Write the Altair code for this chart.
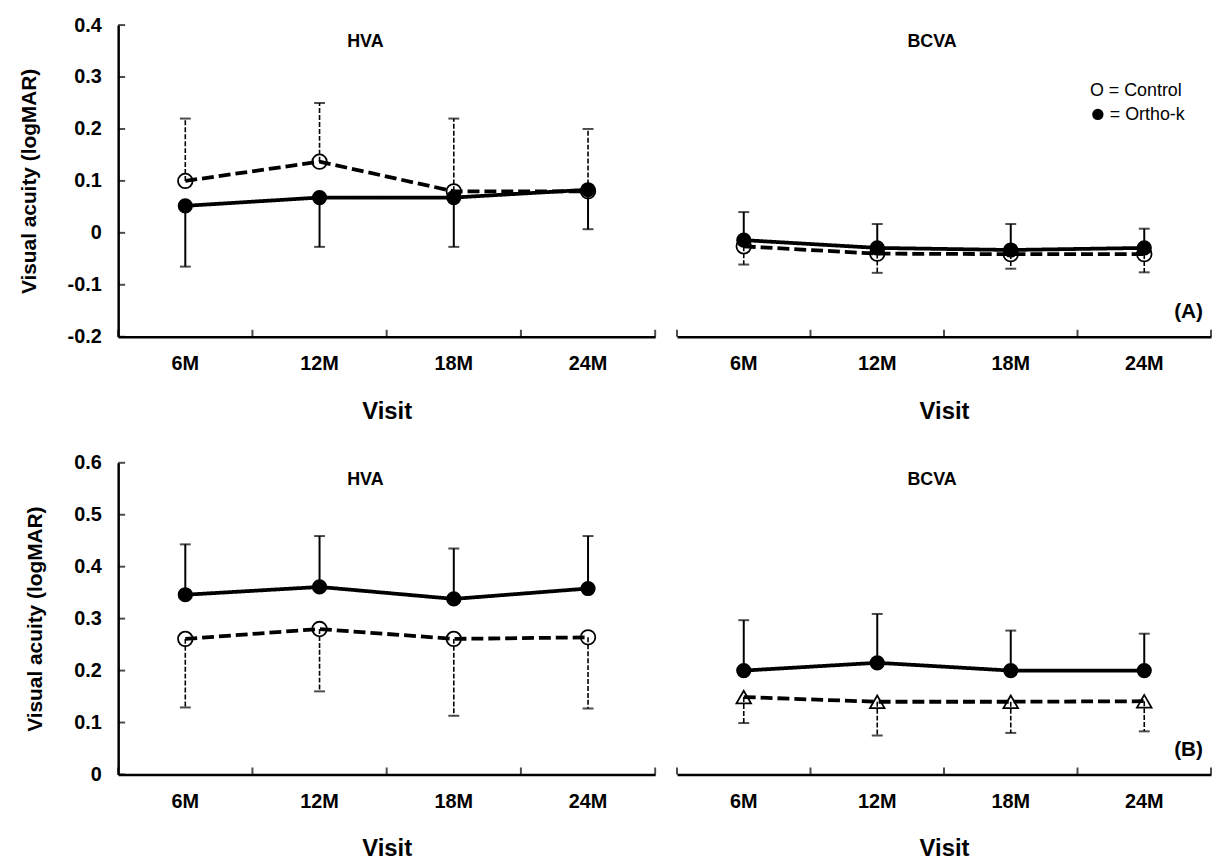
import altair as alt
import pandas as pd

visits = ["6M", "12M", "18M", "24M"]

# (A) HVA
A_HVA_control = [0.100, 0.137, 0.080, 0.080]
A_HVA_control_err = [0.220, 0.250, 0.220, 0.200]
A_HVA_orthok = [0.052, 0.068, 0.068, 0.083]
A_HVA_orthok_err = [-0.065, -0.027, -0.027, 0.007]
# (A) BCVA
A_BCVA_control = [-0.026, -0.040, -0.041, -0.041]
A_BCVA_control_err = [-0.061, -0.077, -0.069, -0.076]
A_BCVA_orthok = [-0.014, -0.029, -0.033, -0.029]
A_BCVA_orthok_err = [0.040, 0.017, 0.017, 0.008]
# (B) HVA
B_HVA_control = [0.261, 0.280, 0.261, 0.264]
B_HVA_control_err = [0.129, 0.160, 0.113, 0.127]
B_HVA_orthok = [0.346, 0.361, 0.338, 0.358]
B_HVA_orthok_err = [0.443, 0.459, 0.435, 0.459]
# (B) BCVA
B_BCVA_control = [0.149, 0.140, 0.140, 0.141]
B_BCVA_control_err = [0.099, 0.075, 0.080, 0.083]
B_BCVA_orthok = [0.200, 0.215, 0.200, 0.200]
B_BCVA_orthok_err = [0.297, 0.309, 0.277, 0.271]

A_ticks = [0.4, 0.3, 0.2, 0.1, 0.0, -0.1, -0.2]
B_ticks = [0.6, 0.5, 0.4, 0.3, 0.2, 0.1, 0.0]

legend_text = ["O = Control", "= Ortho-k"]

FONT = "Liberation Sans"
W_LEFT = 541
W_RIGHT = 538
H = 314


def df(vals, errs):
    return pd.DataFrame({"visit": visits, "value": vals, "err": errs})


def panel(ctrl, orth, dom, yticks, title, title_x, left, ctrl_shape,
          tag=None, legend=False, width=W_LEFT):
    xscale = alt.Scale(type="band", paddingInner=0, paddingOuter=0, domain=visits)
    yscale = alt.Scale(domain=dom, nice=False, zero=False)
    xaxis = alt.Axis(title="Visit", ticks=False, labelAngle=0, domainColor="black",
                     domainWidth=2.5, labelFont=FONT, labelFontSize=20,
                     labelFontWeight="bold", labelColor="black", labelPadding=17,
                     titleFont=FONT, titleFontSize=24, titleFontWeight="bold",
                     titleColor="black", titlePadding=26, grid=False)
    if left:
        yaxis = alt.Axis(title="Visual acuity (logMAR)", values=yticks, ticks=False,
                         grid=False, domainColor="black", domainWidth=2.5,
                         labelFont=FONT, labelFontSize=20, labelFontWeight="bold",
                         labelColor="black", labelPadding=17,
                         labelExpr="datum.value == 0 ? '0' : (datum.value < 0 ? '-' + format(-datum.value, '.1f') : format(datum.value, '.1f'))",
                         titleFont=FONT, titleFontSize=21, titleFontWeight="bold",
                         titleColor="black", titlePadding=28)
    else:
        yaxis = None

    X = alt.X("visit:N", sort=visits, scale=xscale, axis=xaxis)

    def Yv(field):
        return alt.Y(field, scale=yscale, axis=yaxis, title="Visual acuity (logMAR)")

    layers = []
    # inward x ticks at band edges
    layers.append(alt.Chart(pd.DataFrame({"visit": visits})).mark_tick(
        orient="vertical", color="black", thickness=2, size=7).encode(
        x=alt.X("visit:N", sort=visits, scale=xscale, axis=xaxis, bandPosition=0),
        y=alt.value(H - 3.5)))
    layers.append(alt.Chart(pd.DataFrame({"visit": visits[-1:]})).mark_tick(
        orient="vertical", color="black", thickness=2, size=7).encode(
        x=alt.X("visit:N", sort=visits, scale=xscale, axis=xaxis, bandPosition=1),
        y=alt.value(H - 3.5)))
    if left:
        layers.append(alt.Chart(pd.DataFrame({"value": yticks})).mark_tick(
            orient="horizontal", color="black", thickness=2, size=7).encode(
            y=Yv("value:Q"), x=alt.value(3.5)))

    def group(d, dashed, shape, filled):
        out = []
        out.append(alt.Chart(d).mark_rule(
            color="black", strokeWidth=1.6 if dashed else 2,
            strokeDash=[5, 2] if dashed else [1, 0]).encode(
            x=X, y=Yv("value:Q"), y2="err:Q"))
        out.append(alt.Chart(d).mark_tick(
            color="black", thickness=2, size=11, orient="horizontal").encode(
            x=X, y=Yv("err:Q")))
        out.append(alt.Chart(d).mark_line(
            color="black", strokeWidth=3.8,
            strokeDash=[12, 5] if dashed else [1, 0]).encode(
            x=X, y=Yv("value:Q")))
        if filled:
            out.append(alt.Chart(d).mark_point(
                shape=shape, filled=True, size=235, color="black", opacity=1).encode(
                x=X, y=Yv("value:Q")))
        else:
            out.append(alt.Chart(d).mark_point(
                shape=shape, filled=False, size=215, color="black", strokeWidth=1.8,
                opacity=1).encode(
                x=X, y=Yv("value:Q")))
        return out

    layers += group(ctrl, True, ctrl_shape, False)
    layers += group(orth, False, "circle", True)

    layers.append(alt.Chart(pd.DataFrame({"t": [title]})).mark_text(
        font=FONT, fontSize=18, fontWeight="bold", color="black").encode(
        text="t:N", x=alt.value(title_x), y=alt.value(17)))
    if legend:
        layers.append(alt.Chart(pd.DataFrame({"t": [legend_text[0]]})).mark_text(
            font=FONT, fontSize=18, color="black", align="left").encode(
            text="t:N", x=alt.value(416), y=alt.value(66)))
        layers.append(alt.Chart(pd.DataFrame({"t": [legend_text[1]]})).mark_text(
            font=FONT, fontSize=18, color="black", align="left").encode(
            text="t:N", x=alt.value(436), y=alt.value(91)))
        layers.append(alt.Chart(pd.DataFrame({"t": ["Ortho-k"]})).mark_point(
            shape="circle", filled=True, size=130, color="black", opacity=1).encode(
            x=alt.value(424), y=alt.value(90)))
    if tag:
        layers.append(alt.Chart(pd.DataFrame({"t": [tag]})).mark_text(
            font=FONT, fontSize=21, fontWeight="bold", color="black", align="right").encode(
            text="t:N", x=alt.value(width - 8), y=alt.value(H - 25)))

    return alt.layer(*layers).properties(width=width, height=H)


rowA = alt.hconcat(
    panel(df(A_HVA_control, A_HVA_control_err), df(A_HVA_orthok, A_HVA_orthok_err),
          [-0.2, 0.4], A_ticks, "HVA", 249, True, "circle"),
    panel(df(A_BCVA_control, A_BCVA_control_err), df(A_BCVA_orthok, A_BCVA_orthok_err),
          [-0.2, 0.4], A_ticks, "BCVA", 257, False, "circle", tag="(A)", legend=True,
          width=W_RIGHT),
    spacing=20)
rowB = alt.hconcat(
    panel(df(B_HVA_control, B_HVA_control_err), df(B_HVA_orthok, B_HVA_orthok_err),
          [0.0, 0.6], B_ticks, "HVA", 249, True, "circle"),
    panel(df(B_BCVA_control, B_BCVA_control_err), df(B_BCVA_orthok, B_BCVA_orthok_err),
          [0.0, 0.6], B_ticks, "BCVA", 257, False, "triangle-up", tag="(B)",
          width=W_RIGHT),
    spacing=20)

chart = alt.vconcat(rowA, rowB, spacing=30).properties(
    padding={"left": 10, "top": 4, "right": 0, "bottom": 0},
    background="white").configure_view(stroke=None)

chart.save("out.html", embed_options={"renderer": "svg", "actions": False})
